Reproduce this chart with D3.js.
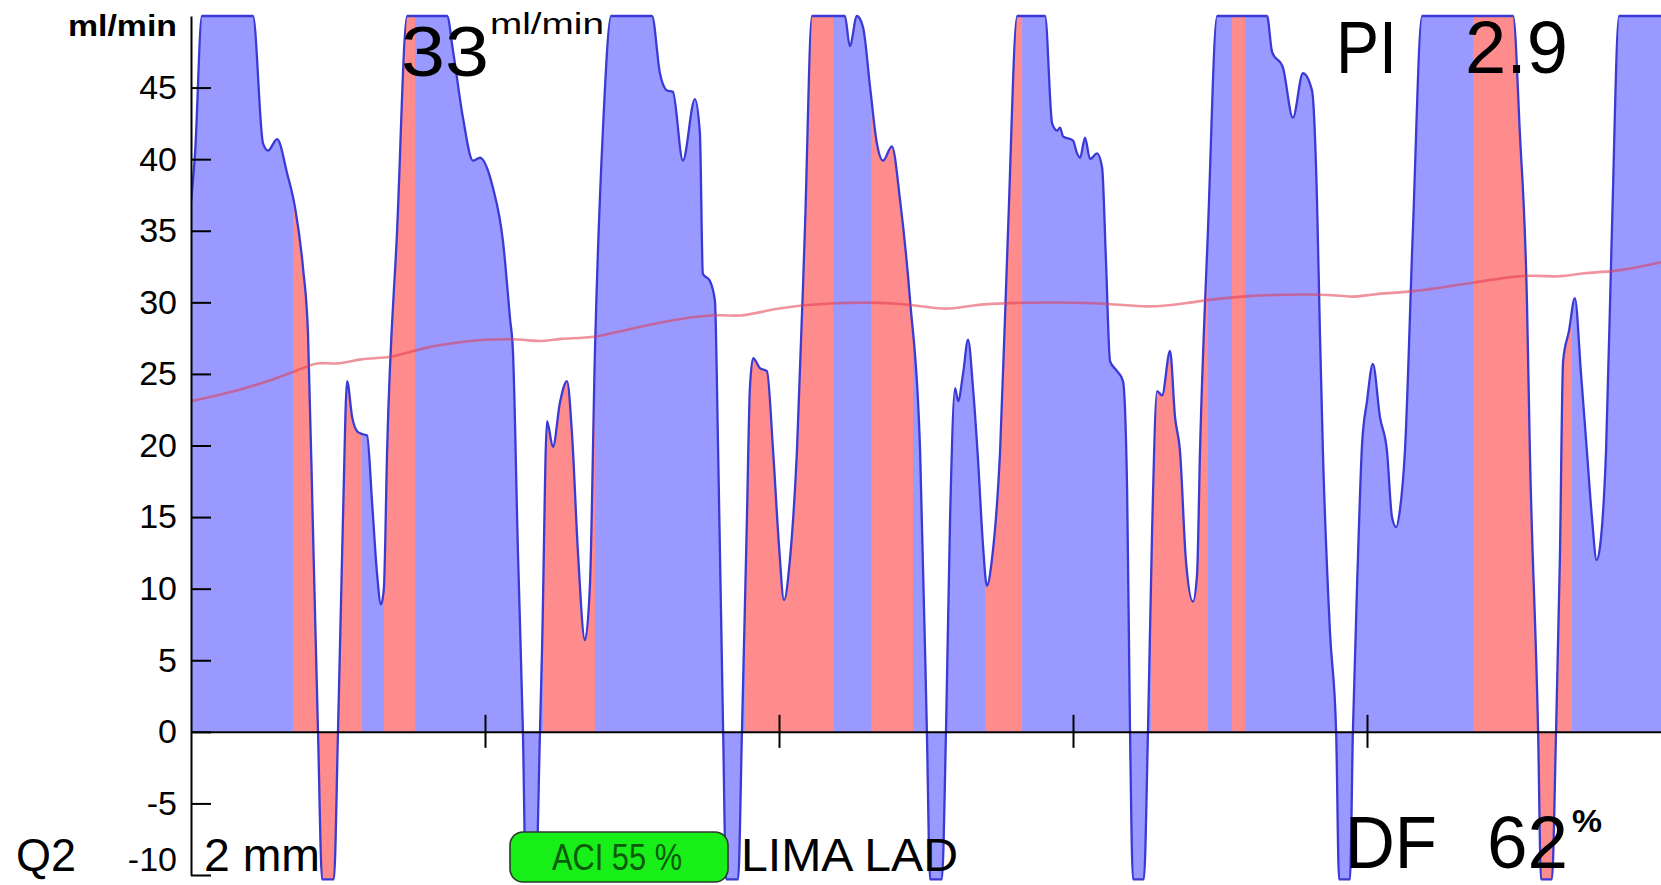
<!DOCTYPE html>
<html>
<head>
<meta charset="utf-8">
<script src="https://cdn.jsdelivr.net/npm/d3@7"></script>
<style>
  html, body { margin: 0; padding: 0; background: #ffffff; }
  svg { display: block; }
  text { font-family: "Liberation Sans", Arial, sans-serif; }
</style>
</head>
<body>
<svg id="chart" width="1661" height="885"></svg>
<script>
// ---------------- DATA ----------------
const yTicks = [-10, -5, 0, 5, 10, 15, 20, 25, 30, 35, 40, 45];
const timeTicks = [1, 2, 3, 4];

// flow waveform: time (s) and flow (ml/min)
const flowT = [
  0.000, 0.014, 0.037, 0.211, 0.245, 0.262, 0.293, 0.327, 0.354, 0.381, 0.398, 0.415, 0.432, 0.446, 0.486, 0.500,
  0.517, 0.531, 0.548, 0.565, 0.582, 0.599, 0.616, 0.633, 0.646, 0.656, 0.667, 0.701, 0.735,
  0.871, 0.891, 0.925, 0.959, 0.983, 1.027, 1.061, 1.085, 1.095, 1.112, 1.129, 1.139, 1.173, 1.187,
  1.194, 1.211, 1.231, 1.255, 1.279, 1.296, 1.316, 1.340, 1.357, 1.374, 1.401, 1.429,
  1.568, 1.595, 1.619, 1.639, 1.673, 1.714, 1.731, 1.741, 1.765, 1.782, 1.793, 1.810, 1.820, 1.861, 1.874,
  1.891, 1.901, 1.912, 1.935, 1.959, 1.980, 2.000, 2.017, 2.037, 2.061, 2.088, 2.112,
  2.224, 2.241, 2.265, 2.286, 2.310, 2.333, 2.354, 2.384, 2.412, 2.446, 2.480, 2.503, 2.514, 2.554, 2.568,
  2.582, 2.599, 2.609, 2.626, 2.643, 2.660, 2.677, 2.694, 2.707, 2.724, 2.752, 2.779, 2.810,
  2.905, 2.929, 2.946, 2.956, 2.966, 3.000, 3.014, 3.024, 3.041, 3.058, 3.082, 3.099, 3.112, 3.126, 3.150,
  3.170, 3.184, 3.194, 3.204, 3.241, 3.255, 3.269, 3.286, 3.303, 3.330, 3.347, 3.364, 3.384, 3.408, 3.422,
  3.432, 3.459, 3.490,
  3.660, 3.677, 3.714, 3.748, 3.782, 3.813, 3.830, 3.840, 3.850, 3.874, 3.895, 3.905, 3.942, 3.952,
  3.969, 3.983, 4.000, 4.020, 4.044, 4.068, 4.085, 4.099, 4.112, 4.129, 4.156, 4.187,
  4.497, 4.520, 4.544, 4.554, 4.582, 4.592, 4.629, 4.643, 4.656, 4.667, 4.687, 4.707, 4.728, 4.748,
  4.765, 4.781, 4.793, 4.813, 4.833, 4.857, 5.000
];
const flowV = [
  37, 40.5, 50, 50, 41.1, 40.6, 41.4, 39.0, 36.6, 32.4, 27.8, 14, 0, -10.3, -10.3, 0,
  15, 24.5, 22, 21.0, 20.8, 20.7, 16, 11, 8.9, 10, 19.6, 35, 50,
  50, 47.6, 42.9, 39.9, 40.1, 38.0, 34.3, 28.9, 26.6, 12.6, 0, -10.3, -10.3, 0,
  5.7, 21.7, 19.9, 23, 24.5, 20.8, 12.6, 6.4, 10.3, 26.6, 42, 50,
  50, 46, 44.8, 44.7, 39.9, 44.2, 41.8, 32.0, 31.5, 30.1, 19.6, 0, -10.3, -10.3, 0,
  15, 24, 26.1, 25.4, 25.2, 19.6, 13, 9.2, 12, 19.6, 35, 50,
  50, 47.9, 50, 49.2, 45, 41.1, 39.9, 40.9, 37.1, 30.1, 19.6, 0, -10.3, -10.3, 0,
  15, 24.0, 23.1, 25, 27.4, 24, 19, 13, 10.2, 12, 19.6, 35, 50,
  50, 42.5, 42.0, 42.2, 41.6, 41.3, 40.4, 40.1, 41.5, 40.0, 40.4, 39.4, 33, 25.9, 25.2,
  24.5, 17, 0, -10.3, -10.3, 0, 14, 23.8, 23.5, 26.6, 22, 19.6, 12, 9.1, 11,
  19.6, 35, 50,
  50, 47.5, 46.4, 42.9, 46.0, 44.8, 37.1, 27.8, 19.6, 7, 0, -10.3, -10.3, 0,
  12, 20, 23.1, 25.7, 22, 19.6, 15, 14.3, 15.5, 19.6, 35, 50,
  50, 41.8, 30.1, 19.6, 0, -10.3, -10.3, 0, 12, 25.9, 28, 30.3, 25, 19.6,
  15, 12.0, 13, 19.6, 35, 50, 50
];

// highlighted (red) time intervals [start, end] in s
const redStart = [0.347, 0.656, 1.197, 1.884, 2.313, 2.701, 3.265, 3.541, 4.361];
const redEnd   = [0.582, 0.762, 1.374, 2.184, 2.456, 2.827, 3.459, 3.585, 4.697];

// running mean flow
const meanT = [0.000, 0.180, 0.361, 0.429, 0.497, 0.575, 0.687, 0.779, 0.925, 1.095, 1.197, 1.245, 1.381, 1.493,
  1.776, 1.867, 1.980, 2.184, 2.412, 2.571, 2.639, 2.810, 3.092, 3.262, 3.374, 3.568, 3.884, 3.952, 4.020,
  4.146, 4.340, 4.544, 4.656, 4.735, 4.837, 5.000];
const meanV = [23.1, 23.9, 25.2, 25.9, 25.6, 26.1, 26.1, 26.8, 27.3, 27.5, 27.2, 27.5, 27.5, 28.2,
  29.3, 28.9, 29.6, 30.0, 30.0, 29.4, 29.8, 30.0, 30.0, 29.6, 29.9, 30.5, 30.6, 30.3, 30.6,
  30.7, 31.3, 32.0, 31.7, 32.1, 32.1, 32.8];

// ---------------- CHART ----------------
const svg = d3.select("#chart");
const x = d3.scaleLinear().domain([0, 5]).range([191, 1661]);
const y = d3.scaleLinear().domain([-10, 50]).range([875, 16]);

const flow = flowT.map((t, i) => ({ t, v: flowV[i] }));
const mean = meanT.map((t, i) => ({ t, v: meanV[i] }));

const defs = svg.append("defs");
defs.append("clipPath").attr("id", "plotClip")
  .append("rect").attr("x", x(0)).attr("y", 0).attr("width", x(5) - x(0)).attr("height", 885);
const redClip = defs.append("clipPath").attr("id", "redClip");
redStart.forEach((s, i) => {
  redClip.append("rect").attr("x", x(s)).attr("y", 0)
    .attr("width", x(redEnd[i]) - x(s)).attr("height", 885);
});

const area = d3.area().x(d => x(d.t)).y0(y(0)).y1(d => y(d.v)).curve(d3.curveMonotoneX);
const line = d3.line().x(d => x(d.t)).y(d => y(d.v)).curve(d3.curveMonotoneX);

const plot = svg.append("g").attr("clip-path", "url(#plotClip)");
plot.append("path").datum(flow).attr("d", area).attr("fill", "#9999ff");
plot.append("g").attr("clip-path", "url(#redClip)")
  .append("path").datum(flow).attr("d", area).attr("fill", "#ff8c8c");
plot.append("path").datum(flow).attr("d", line)
  .attr("fill", "none").attr("stroke", "#3a3ad4").attr("stroke-width", 2.3);
plot.append("path").datum(mean).attr("d", d3.line().x(d => x(d.t)).y(d => y(d.v)).curve(d3.curveBasis))
  .attr("fill", "none").attr("stroke", "#e23a50").attr("stroke-opacity", 0.55).attr("stroke-width", 2.6);

// x axis (zero line with ticks)
const xg = svg.append("g").attr("transform", `translate(0,${y(0)})`)
  .call(d3.axisBottom(x).tickValues(timeTicks).tickSize(16).tickSizeOuter(0).tickFormat(""));
xg.select(".domain").attr("stroke", "#000").attr("stroke-width", 2);
xg.selectAll(".tick line").attr("y1", -17).attr("stroke", "#000").attr("stroke-width", 2);

// y axis
const yg = svg.append("g").attr("transform", `translate(${x(0)},0)`)
  .call(d3.axisLeft(y).tickValues(yTicks).tickSize(-20).tickSizeOuter(0).tickPadding(14)
    .tickFormat(d => String(d)));
yg.select(".domain").attr("stroke", "#000").attr("stroke-width", 2);
yg.selectAll(".tick line").attr("stroke", "#000").attr("stroke-width", 2);
yg.selectAll(".tick text").attr("font-size", 34).attr("fill", "#000")
  .attr("font-family", "'Liberation Sans', Arial, sans-serif");
yg.selectAll(".tick text").filter(d => d === -10).attr("y", -15);

// ---------------- TEXT ----------------
function txt(s, xp, yp, size, len, opts = {}) {
  const t = svg.append("text").attr("x", xp).attr("y", yp).attr("font-size", size)
    .attr("fill", opts.fill || "#000").text(s);
  if (opts.weight) t.attr("font-weight", opts.weight);
  if (opts.anchor) t.attr("text-anchor", opts.anchor);
  if (len) t.attr("textLength", len).attr("lengthAdjust", "spacingAndGlyphs");
  return t;
}
txt("ml/min", 68, 36, 30, 109, { weight: "bold" });
txt("33", 401, 76, 70, 88);
txt("ml/min", 490, 34, 29, 114);
txt("PI", 1336, 73, 74, 61);
txt("2.9", 1465, 73, 74, 103);
txt("DF", 1345, 868, 74, 92);
txt("62", 1487, 868, 74, 81);
txt("%", 1572, 832, 31, 30, { weight: "bold" });
txt("Q2", 16, 871, 46, 60);
txt("2 mm", 204, 871, 46, 116);

svg.append("rect").attr("x", 510).attr("y", 832).attr("width", 218).attr("height", 50)
  .attr("rx", 13).attr("fill", "#18ee18").attr("stroke", "#2a3a2a").attr("stroke-width", 1.6);
txt("ACI 55 %", 552, 870, 36, 130, { fill: "#0c5a0c" });
txt("LIMA LAD", 741, 871, 46, 217);
</script>
</body>
</html>
